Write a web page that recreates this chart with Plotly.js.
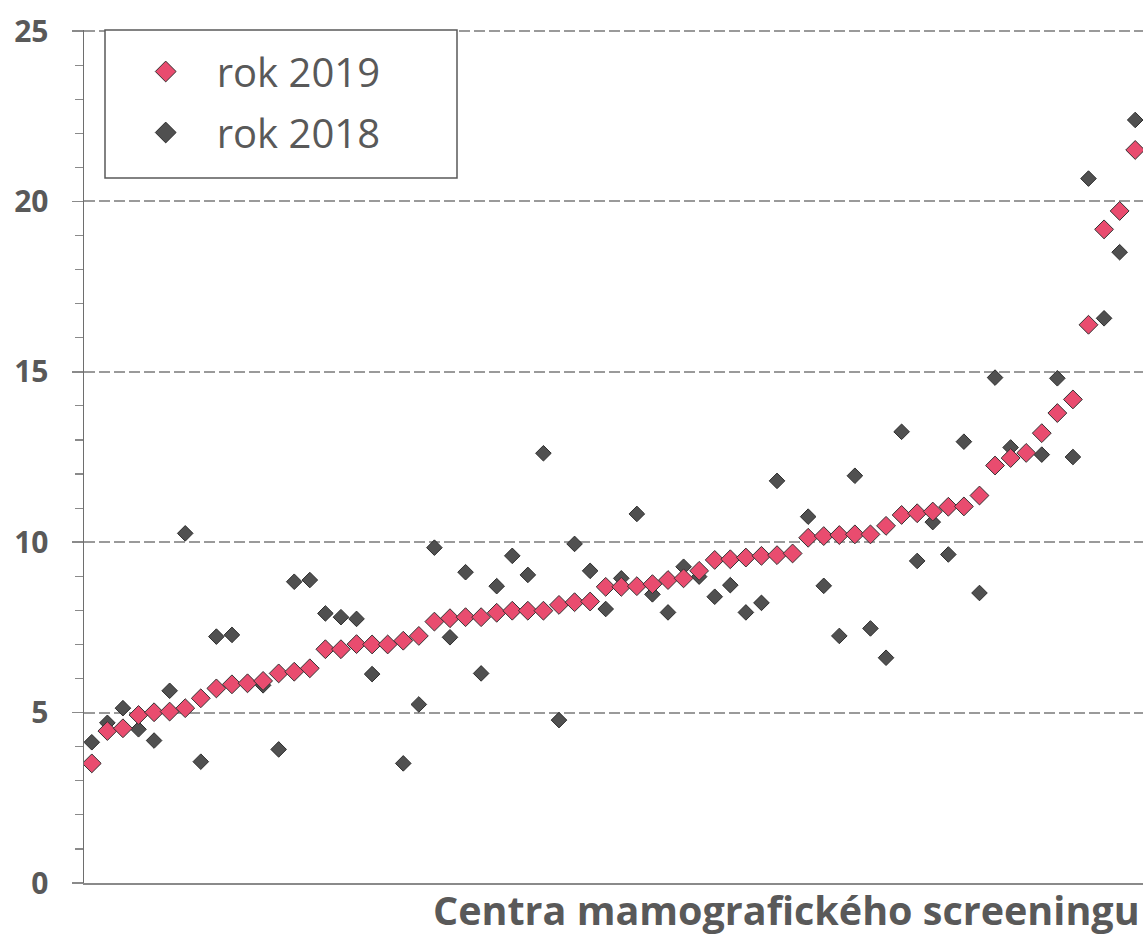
<!DOCTYPE html>
<html>
<head>
<meta charset="utf-8">
<script src="https://cdn.plot.ly/plotly-3.0.1.min.js"></script>
<style>html,body{margin:0;padding:0;background:#fff;}#chart{width:1148px;height:936px;}</style>
</head>
<body>
<div id="chart"></div>
<script>
// Categories: mammography screening centres (unnamed in the source), sorted by 2019 value
const categories = Array.from({length: 68}, (_, i) => 'C' + (i + 1));

// rok 2019 values
const values2019 = [
  3.51, 4.46, 4.54, 4.93, 5.01, 5.03, 5.13, 5.42, 5.71, 5.83,
  5.86, 5.93, 6.15, 6.20, 6.30, 6.86, 6.86, 7.01, 7.00, 7.00,
  7.11, 7.25, 7.67, 7.77, 7.80, 7.80, 7.93, 7.99, 7.99, 7.99,
  8.16, 8.24, 8.26, 8.69, 8.69, 8.71, 8.77, 8.89, 8.94, 9.16,
  9.48, 9.50, 9.55, 9.60, 9.62, 9.67, 10.13, 10.18, 10.21, 10.23,
  10.23, 10.48, 10.80, 10.85, 10.90, 11.04, 11.05, 11.37, 12.25, 12.47,
  12.62, 13.20, 13.79, 14.19, 16.38, 19.18, 19.72, 21.51
];

// rok 2018 values
const values2018 = [
  4.13, 4.70, 5.13, 4.51, 4.18, 5.64, 10.26, 3.56, 7.23, 7.28,
  5.85, 5.80, 3.92, 8.84, 8.89, 7.91, 7.80, 7.75, 6.13, 7.00,
  3.51, 5.24, 9.84, 7.21, 9.12, 6.15, 8.71, 9.60, 9.04, 12.61,
  4.78, 9.95, 9.16, 8.04, 8.94, 10.83, 8.47, 7.94, 9.28, 8.99,
  8.40, 8.74, 7.94, 8.22, 11.80, 9.67, 10.75, 8.72, 7.25, 11.95,
  7.47, 6.61, 13.24, 9.45, 10.59, 9.64, 12.95, 8.51, 14.83, 12.78,
  12.62, 12.57, 14.81, 12.50, 20.67, 16.57, 18.51, 22.39
];

const yTickVals = [0, 5, 10, 15, 20, 25];
const yTickText = ['0', '5', '10', '15', '20', '25'];
const xTitle = 'Centra mamografického screeningu';
const seriesNames = ['rok 2019', 'rok 2018'];

const textColor = '#595959';
const pink = '#E94C6F';
const dark = '#505050';

const trace2018 = {
  type: 'scatter', mode: 'markers', name: seriesNames[1],
  x: categories, y: values2018, showlegend: false,
  marker: {symbol: 'diamond', size: 12, color: dark, line: {color: '#2e2e2e', width: 1}},
  hoverinfo: 'x+y'
};
const trace2019 = {
  type: 'scatter', mode: 'markers', name: seriesNames[0],
  x: categories, y: values2019, showlegend: false,
  marker: {symbol: 'diamond', size: 14.5, color: pink, line: {color: '#333333', width: 1}},
  hoverinfo: 'x+y'
};
// legend-only entries (a single empty point, nothing drawn), with the larger legend symbols
const legend2019 = {
  type: 'scatter', mode: 'markers', name: seriesNames[0], x: [null], y: [null],
  showlegend: true, legendrank: 1, legendgroup: 'a', hoverinfo: 'skip',
  marker: {symbol: 'diamond', size: 16, color: pink, line: {color: '#333333', width: 1}}
};
const legend2018 = {
  type: 'scatter', mode: 'markers', name: seriesNames[1], x: [null], y: [null],
  showlegend: true, legendrank: 2, legendgroup: 'b', hoverinfo: 'skip',
  marker: {symbol: 'diamond', size: 16, color: dark, line: {color: '#2e2e2e', width: 1}}
};

const layout = {
  width: 1148, height: 936,
  margin: {l: 84, r: 5, t: 30, b: 53},
  paper_bgcolor: '#ffffff', plot_bgcolor: '#ffffff',
  showlegend: true,
  legend: {
    x: (114.7 - 84) / 1059, xanchor: 'left', y: (883 - 39) / 853, yanchor: 'top',
    bgcolor: 'rgba(0,0,0,0)', borderwidth: 0,
    font: {family: 'Open Sans, sans-serif', size: 40, color: textColor},
    itemwidth: 92, tracegroupgap: 6, traceorder: 'grouped'
  },
  xaxis: {
    type: 'category', range: [-0.5, 67.5],
    showticklabels: false, ticks: '',
    showgrid: false, zeroline: false,
    showline: true, linecolor: '#8a8a8a', linewidth: 1.5,
    fixedrange: true
  },
  yaxis: {
    range: [0, 25.03], tickvals: yTickVals, ticktext: yTickText,
    ticks: 'outside', ticklen: 11, tickcolor: '#8a8a8a', tickwidth: 1.5,
    ticklabelstandoff: 17,
    tickfont: {family: 'Open Sans, sans-serif', size: 30, color: textColor, weight: 700},
    showline: true, linecolor: '#6e6e6e', linewidth: 1.5,
    showgrid: true, gridcolor: '#9a9a9a', gridwidth: 2, griddash: '11px,4px',
    zeroline: false,
    minor: {dtick: 1, ticks: 'outside', ticklen: 8, tickcolor: '#8a8a8a', tickwidth: 1.2, showgrid: false},
    fixedrange: true
  },
  shapes: [{
    type: 'rect', xref: 'paper', yref: 'paper', layer: 'above',
    x0: (105 - 84) / 1059, x1: (457 - 84) / 1059,
    y0: (883 - 178) / 853, y1: (883 - 30) / 853,
    fillcolor: '#ffffff', line: {color: '#595959', width: 1.5}
  }],
  annotations: [{
    text: xTitle, xref: 'paper', yref: 'paper', x: 1, y: 0,
    xanchor: 'right', yanchor: 'top', yshift: 2, xshift: -1, showarrow: false,
    font: {family: 'Open Sans, sans-serif', size: 39.5, color: textColor, weight: 700}
  }]
};

Plotly.newPlot('chart', [trace2018, trace2019, legend2019, legend2018], layout, {displayModeBar: false, staticPlot: true});
</script>
</body>
</html>
